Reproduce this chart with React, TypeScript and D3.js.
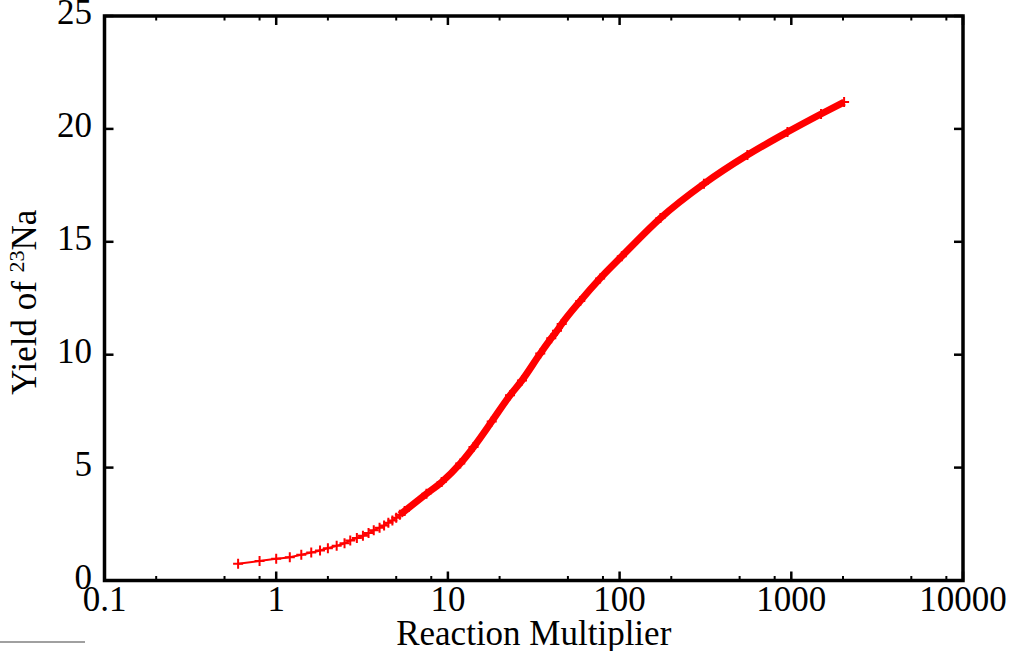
import React from 'react';
import * as d3 from 'd3';

// Reaction multiplier (x) and yield of 23Na (y)
const multiplier = [0.6, 0.8, 1.0, 1.2, 1.4, 1.6, 1.8, 2.0, 2.25, 2.5, 2.7, 2.95, 3.2, 3.45, 3.7, 4.0, 4.25, 4.5, 4.75, 5.0, 5.25, 5.6, 7.5, 9.2, 11.8, 14.1, 18, 23, 27, 34.5, 40, 43.2, 46, 59, 77, 103, 173, 310, 555, 950, 1490, 2030];
const yieldNa = [0.74, 0.86, 0.96, 1.03, 1.14, 1.24, 1.33, 1.43, 1.54, 1.65, 1.77, 1.88, 1.98, 2.10, 2.22, 2.34, 2.44, 2.56, 2.66, 2.78, 2.91, 3.08, 3.84, 4.36, 5.18, 5.91, 7.04, 8.20, 8.86, 10.05, 10.73, 11.06, 11.36, 12.38, 13.38, 14.36, 16.05, 17.57, 18.84, 19.86, 20.66, 21.19];

const xTicks = [0.1, 1, 10, 100, 1000, 10000];
const xTickLabels = ['0.1', '1', '10', '100', '1000', '10000'];
const xMinorTicks = [0.2, 0.5, 0.8, 2, 5, 8, 20, 50, 80, 200, 500, 800, 2000, 5000, 8000];
const yTicks = [0, 5, 10, 15, 20, 25];
const yTickLabels = ['0', '5', '10', '15', '20', '25'];

const xTitle = 'Reaction Multiplier';
const yTitleMain = 'Yield of ';
const yTitleSup = '23';
const yTitleEnd = 'Na';

const denseFrom = 5.25;

export default function App() {
  const W = 1016, H = 651;
  const left = 104.5, right = 963, top = 16, bottom = 580.5;
  const x = d3.scaleLog().domain([0.1, 10000]).range([left, right]);
  const y = d3.scaleLinear().domain([0, 25]).range([bottom, top]);
  const pts = multiplier.map((m, i) => [m, yieldNa[i]] as [number, number]);
  const line = d3.line<[number, number]>().x(d => x(d[0])).y(d => y(d[1])).curve(d3.curveMonotoneX);
  const dense = pts.filter(d => d[0] >= denseFrom);
  const font = '"Liberation Serif", "Times New Roman", serif';
  const fs = 35;
  const red = '#ff0000';
  return (
    <svg width={W} height={H} style={{ position: 'absolute', left: 0, top: 0, background: '#fff' }}>
      <rect x={0} y={0} width={W} height={H} fill="#fff" />
      {/* data */}
      <path d={line(pts) || ''} fill="none" stroke={red} strokeWidth={2} />
      <path d={line(dense) || ''} fill="none" stroke={red} strokeWidth={7} />
      {pts.map((d, i) => {
        const cx = x(d[0]), cy = y(d[1]);
        return <path key={i} d={`M${cx - 5},${cy}H${cx + 5}M${cx},${cy - 5}V${cy + 5}`} stroke={red} strokeWidth={2} />;
      })}
      {/* ticks */}
      {xTicks.map((t, i) => (
        <g key={'xt' + i}>
          <line x1={x(t)} x2={x(t)} y1={bottom} y2={bottom - 9} stroke="#000" strokeWidth={2.5} />
          <line x1={x(t)} x2={x(t)} y1={top} y2={top + 9} stroke="#000" strokeWidth={2.5} />
        </g>
      ))}
      {xMinorTicks.map((t, i) => (
        <g key={'xm' + i}>
          <line x1={x(t)} x2={x(t)} y1={bottom} y2={bottom - 4.5} stroke="#000" strokeWidth={2} />
          <line x1={x(t)} x2={x(t)} y1={top} y2={top + 4.5} stroke="#000" strokeWidth={2} />
        </g>
      ))}
      {yTicks.map((t, i) => (
        <g key={'yt' + i}>
          <line x1={left} x2={left + 9} y1={y(t)} y2={y(t)} stroke="#000" strokeWidth={2.5} />
          <line x1={right} x2={right - 9} y1={y(t)} y2={y(t)} stroke="#000" strokeWidth={2.5} />
        </g>
      ))}
      {/* frame */}
      <rect x={left} y={top} width={right - left} height={bottom - top} fill="none" stroke="#000" strokeWidth={3.5} />
      {/* tick labels */}
      {yTicks.map((t, i) => (
        <text key={'yl' + i} x={92} y={y(t) + 8} textAnchor="end" fontFamily={font} fontSize={fs} fill="#000">{yTickLabels[i]}</text>
      ))}
      {xTicks.map((t, i) => (
        <text key={'xl' + i} x={x(t)} y={611} textAnchor="middle" fontFamily={font} fontSize={fs} fill="#000">{xTickLabels[i]}</text>
      ))}
      {/* titles */}
      <text x={(left + right) / 2} y={645} textAnchor="middle" fontFamily={font} fontSize={fs} fill="#000">{xTitle}</text>
      <text transform={`translate(36,${(top + bottom) / 2 + 4}) rotate(-90)`} textAnchor="middle" fontFamily={font} fontSize={fs} fill="#000">
        {yTitleMain}<tspan fontSize={22} dy={-12}>{yTitleSup}</tspan><tspan dy={12}>{yTitleEnd}</tspan>
      </text>
      {/* stray gray rule at lower left */}
      <line x1={0} x2={85} y1={642} y2={642} stroke="#a0a0a0" strokeWidth={2} />
    </svg>
  );
}
